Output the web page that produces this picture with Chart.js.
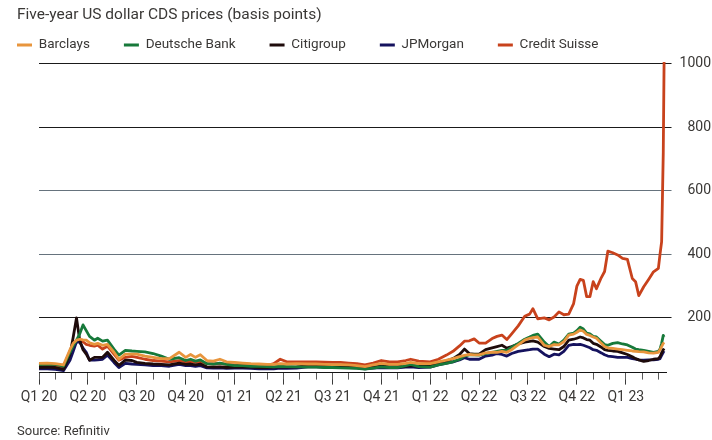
<!DOCTYPE html>
<html>
<head>
<meta charset="utf-8">
<script src="https://cdn.jsdelivr.net/npm/chart.js@4"></script>
<style>
html,body{margin:0;padding:0;background:#ffffff;}
#wrap{width:712px;height:440px;}
</style>
</head>
<body>
<div id="wrap"><canvas id="c" width="712" height="440"></canvas></div>
<script>
// time axis: months since 1 Jan 2020
const months = [
  0, 0.5, 1, 1.5, 1.9,
  2.1, 2.3, 2.5, 2.7, 2.9,
  3.1, 3.4, 3.6, 3.9, 4.2,
  4.6, 4.9, 5.3, 5.7, 6,
  6.5, 7, 7.5, 8, 8.6,
  9, 9.3, 9.6, 9.9, 10.3,
  10.7, 11.1, 11.5, 12, 12.5,
  13, 13.5, 14, 14.4, 14.8,
  15.2, 15.8, 16.5, 17, 17.5,
  18, 18.5, 19, 19.5, 20,
  20.5, 21, 21.5, 22, 22.5,
  22.8, 23.3, 24, 24.5, 25,
  25.4, 25.8, 26.1, 26.4, 26.7,
  27, 27.4, 27.8, 28.1, 28.4,
  28.7, 29, 29.4, 29.8, 30.1,
  30.3, 30.6, 31, 31.3, 31.6,
  31.9, 32.2, 32.5, 32.8, 33,
  33.2, 33.4, 33.6, 33.8, 34,
  34.2, 34.5, 34.7, 34.9, 35.2,
  35.5, 35.8, 36.1, 36.4, 36.6,
  36.8, 37.1, 37.4, 37.7, 38,
  38.1, 38.2, 38.3, 38.35
];

const barclays = [
  57, 58, 56, 52, 100,
  120, 130, 133, 131, 130,
  122, 117, 120, 114, 117,
  92, 70, 86, 86, 86,
  80, 76, 72, 72, 92,
  76, 85, 76, 84, 66,
  64, 70, 62, 60, 58,
  56, 55, 54, 54, 56,
  55, 56, 55, 55, 54,
  53, 53, 52, 50, 47,
  52, 57, 54, 54, 57,
  60, 56, 56, 62, 67,
  72, 78, 82, 85, 84,
  84, 90, 92, 92, 95,
  92, 100, 115, 130, 136,
  138, 140, 114, 110, 116,
  115, 125, 146, 149, 155,
  162, 158, 148, 145, 140,
  136, 120, 110, 106, 104,
  102, 100, 98, 96, 95,
  94, 93, 90, 89, 92,
  100, 110, 120, 117
];

const deutscheBank = [
  53, 55, 54, 48, 92,
  112, 130, 150, 178, 160,
  142, 130, 136, 127, 130,
  102, 83, 98, 96, 95,
  93, 88, 80, 70, 75,
  66, 70, 64, 68, 56,
  55, 58, 54, 50, 50,
  48, 48, 47, 46, 48,
  47, 46, 45, 45, 44,
  44, 43, 42, 41, 39,
  42, 46, 44, 44, 50,
  54, 47, 45, 52, 57,
  62, 70, 80, 84, 84,
  83, 88, 92, 95, 98,
  98, 108, 120, 133, 140,
  145, 149, 124, 110, 124,
  118, 130, 149, 152, 160,
  171, 165, 152, 150, 142,
  140, 126, 116, 114, 120,
  122, 118, 115, 108, 102,
  100, 98, 95, 92, 95,
  102, 120, 145, 140
];

const citigroup = [
  44, 45, 44, 38, 85,
  140, 200, 130, 100, 86,
  67, 76, 76, 76, 92,
  67, 51, 67, 66, 60,
  57, 55, 54, 52, 58,
  54, 55, 52, 55, 46,
  45, 46, 44, 45, 46,
  45, 44, 44, 45, 46,
  45, 46, 50, 50, 50,
  49, 49, 48, 47, 44,
  46, 48, 47, 47, 48,
  50, 48, 50, 58, 65,
  72, 85, 102, 88, 86,
  86, 100, 106, 110, 114,
  105, 110, 118, 124, 126,
  128, 124, 110, 104, 102,
  100, 110, 130, 133, 136,
  140, 137, 132, 130, 120,
  117, 108, 100, 98, 96,
  95, 90, 85, 78, 72,
  68, 63, 66, 70, 72,
  78, 90, 100, 104
];

const jpMorgan = [
  40, 40, 38, 34, 67,
  95, 125, 124, 105, 92,
  67, 67, 68, 70, 83,
  60, 44, 57, 55, 54,
  52, 50, 50, 48, 54,
  50, 50, 48, 50, 43,
  42, 43, 41, 42, 42,
  41, 40, 40, 40, 42,
  41, 42, 46, 46, 45,
  45, 45, 44, 43, 40,
  42, 44, 43, 43, 45,
  46, 44, 45, 52, 58,
  62, 68, 75, 70, 70,
  70, 80, 83, 88, 85,
  80, 88, 95, 98, 100,
  102, 102, 86, 78, 86,
  84, 95, 114, 117, 116,
  117, 114, 110, 106, 100,
  98, 90, 84, 80, 78,
  76, 76, 76, 72, 70,
  68, 67, 68, 68, 70,
  72, 82, 92, 96
];

const creditSuisse = [
  50, 52, 50, 46, 96,
  115, 128, 132, 125, 117,
  114, 111, 114, 102, 111,
  86, 67, 76, 79, 76,
  70, 66, 64, 62, 66,
  62, 63, 60, 62, 56,
  55, 56, 54, 52, 52,
  50, 50, 50, 56, 70,
  62, 62, 62, 62, 61,
  60, 60, 58, 56, 52,
  58, 66, 62, 62, 66,
  70, 64, 62, 70, 83,
  95, 112, 127, 128, 134,
  121, 121, 135, 142, 146,
  132, 150, 175, 205, 212,
  229, 197, 200, 194, 203,
  219, 210, 212, 245, 300,
  321, 318, 267, 267, 314,
  292, 327, 346, 410, 405,
  398, 387, 384, 324, 314,
  270, 298, 321, 345, 356,
  400, 440, 720, 1005
];

const seriesNames = ['Barclays', 'Deutsche Bank', 'Citigroup', 'JPMorgan', 'Credit Suisse'];
const seriesColors = ['#e8953d', '#17793a', '#1e0b0b', '#15125e', '#c8421c'];

const quarterMonths = [0, 3, 6, 9, 12, 15, 18, 21, 24, 27, 30, 33, 36];
const quarterLabels = ['Q1 20', 'Q2 20', 'Q3 20', 'Q4 20', 'Q1 21', 'Q2 21', 'Q3 21', 'Q4 21', 'Q1 22', 'Q2 22', 'Q3 22', 'Q4 22', 'Q1 23'];
const yTicks = [200, 400, 600, 800, 1000];

const monthTicks = [];
for (let m = 0; m <= 38; m++) monthTicks.push(m);

const allSeries = [barclays, deutscheBank, citigroup, jpMorgan, creditSuisse];
const TEXT = '#3a3836';
Chart.defaults.font.family = 'Roboto, "Open Sans", sans-serif';
Chart.defaults.color = TEXT;

const datasets = allSeries.map((vals, i) => ({
  label: seriesNames[i],
  data: months.map((m, k) => ({x: m, y: vals[k]})),
  xAxisID: 'x',
  yAxisID: 'y',
  borderColor: seriesColors[i],
  backgroundColor: seriesColors[i],
  borderWidth: 2.8,
  pointRadius: 0,
  tension: 0,
  borderJoinStyle: 'round',
  clip: false
}));

const legendShift = {
  id: 'legendShift',
  afterLayout(chart) {
    const lg = chart.legend;
    if (!lg) return;
    const pad = lg.options.labels.padding;
    const fs = lg.options.labels.font.size;
    const w = lg.right - lg.left;
    lg.left = 17 - pad; lg.right = lg.left + w;
    lg.top = 45 - pad - fs / 2; lg.bottom = lg.top + pad + fs + 8;
    lg.height = lg.bottom - lg.top;
  }
};

new Chart(document.getElementById('c'), {
  type: 'line',
  data: {datasets},
  options: {
    responsive: false,
    animation: false,
    devicePixelRatio: 1,
    layout: {padding: {left: 17, right: 1, top: 0, bottom: 0}},
    scales: {
      x: {
        type: 'linear', position: 'bottom', weight: 1,
        min: 0, max: 38.5,
        afterBuildTicks: s => { s.ticks = quarterMonths.map(v => ({value: v})); },
        ticks: {
          autoSkip: false, maxRotation: 0, padding: 4,
          font: {size: 14}, color: TEXT,
          callback: (v, i) => quarterLabels[i]
        },
        grid: {drawOnChartArea: false, drawTicks: true, tickLength: 12, color: '#3a3a3a', lineWidth: 1},
        border: {display: true, color: '#151515', width: 1}
      },
      xMinor: {
        type: 'linear', position: 'bottom', weight: 0,
        min: 0, max: 38.5,
        afterBuildTicks: s => { s.ticks = monthTicks.map(v => ({value: v})); },
        ticks: {display: false},
        grid: {drawOnChartArea: false, drawTicks: true, tickLength: 7, color: '#5a5a5a', lineWidth: 1},
        border: {display: false},
        afterFit: s => { s.height = 0; }
      },
      y: {
        type: 'linear', position: 'right',
        min: 28, max: 1000,
        afterBuildTicks: s => { s.ticks = yTicks.map(v => ({value: v})); },
        ticks: {font: {size: 14}, color: TEXT, padding: 4, crossAlign: 'far', callback: v => String(v)},
        grid: {
          drawTicks: true, tickLength: 5, lineWidth: 1,
          color: c => (c.tick && (c.tick.value === 400 || c.tick.value === 600)) ? '#66737d' : '#1a1a1a'
        },
        border: {display: false}
      },
      yLeft: {
        type: 'linear', position: 'left', display: true,
        ticks: {display: false},
        grid: {display: false},
        border: {display: false},
        afterFit: s => { s.width = 22; }
      }
    },
    plugins: {
      title: {
        display: true, text: 'Five-year US dollar CDS prices (basis points)',
        align: 'start', color: TEXT,
        font: {size: 15.5, weight: 'normal'},
        padding: {top: 6, bottom: 9}
      },
      subtitle: {
        display: true, text: 'Source: Refinitiv', position: 'bottom',
        align: 'start', color: TEXT,
        font: {size: 13, weight: 'normal'},
        padding: {top: 15, bottom: 0}
      },
      legend: {
        display: true, position: 'top', align: 'start', maxHeight: 30,
        labels: {
          usePointStyle: true, pointStyle: 'line', pointStyleWidth: 15,
          padding: 34, color: TEXT, font: {size: 13.5},
          sort: (a, b) => a.datasetIndex - b.datasetIndex
        }
      },
      tooltip: {enabled: false}
    }
  },
  plugins: [legendShift]
});
</script>
</body>
</html>
